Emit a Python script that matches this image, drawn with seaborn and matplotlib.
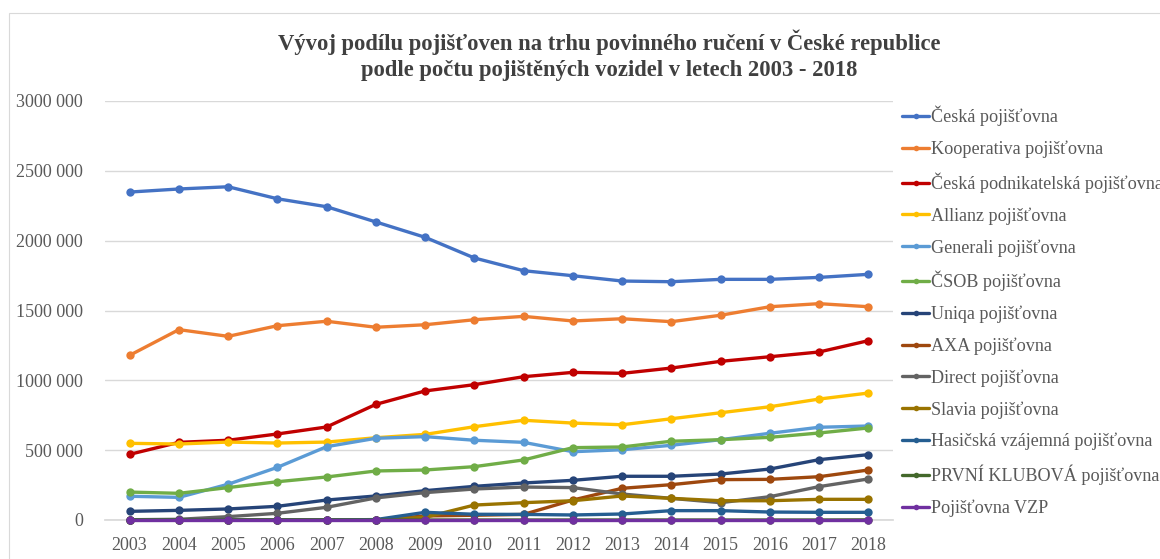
import matplotlib
matplotlib.use("Agg")
import matplotlib.pyplot as plt
from matplotlib.lines import Line2D
from matplotlib.patches import Rectangle
import pandas as pd
import seaborn as sns

# ── data ─────────────────────────────────────────────────────────────────────
years = list(range(2003, 2019))

ceska = [2348000, 2370000, 2386000, 2300000, 2243000, 2134000, 2024000, 1876000,
         1785000, 1749000, 1711000, 1706000, 1723000, 1723000, 1737000, 1759000]
kooperativa = [1179000, 1363000, 1315000, 1391000, 1423000, 1380000, 1398000, 1434000,
               1458000, 1425000, 1441000, 1420000, 1466000, 1527000, 1549000, 1527000]
cpp = [470000, 556000, 571000, 616000, 666000, 828000, 924000, 969000,
       1026000, 1057000, 1050000, 1088000, 1136000, 1169000, 1203000, 1284000]
allianz = [549000, 544000, 558000, 551000, 558000, 589000, 613000, 668000,
           714000, 694000, 682000, 725000, 768000, 811000, 866000, 909000]
generali = [170000, 162000, 256000, 377000, 525000, 585000, 597000, 571000,
            556000, 489000, 503000, 535000, 575000, 621000, 664000, 673000]
csob = [200000, 191000, 232000, 274000, 308000, 351000, 358000, 382000,
        430000, 518000, 523000, 564000, 575000, 592000, 623000, 659000]
uniqa = [62000, 69000, 79000, 98000, 143000, 172000, 210000, 241000,
         265000, 284000, 313000, 313000, 329000, 365000, 432000, 468000]
axa = [0, 0, 0, 0, 0, 0, 29000, 34000,
       40000, 143000, 227000, 253000, 289000, 291000, 310000, 358000]
direct = [2000, 5000, 24000, 48000, 91000, 158000, 196000, 222000,
          236000, 232000, 186000, 155000, 124000, 167000, 239000, 294000]
slavia = [0, 0, 0, 0, 0, 0, 19000, 107000,
          124000, 138000, 172000, 155000, 138000, 138000, 148000, 148000]
hasicska = [0, 0, 0, 0, 0, 3000, 55000, 41000,
            40000, 36000, 43000, 67000, 67000, 57000, 55000, 55000]
prvni = [0, 0, 0, 0, 0, 0, 0, 0, 0, 0, 0, 0, 0, 0, 0, 1000]
vzp = [0, 0, 0, 0, 0, 0, 0, 0, 0, 0, 0, 0, 0, 0, 0, 0]

series_names = ["Česká pojišťovna", "Kooperativa pojišťovna",
                "Česká podnikatelská pojišťovna", "Allianz pojišťovna",
                "Generali pojišťovna", "ČSOB pojišťovna", "Uniqa pojišťovna",
                "AXA pojišťovna", "Direct pojišťovna", "Slavia pojišťovna",
                "Hasičská vzájemná pojišťovna", "PRVNÍ KLUBOVÁ pojišťovna",
                "Pojišťovna VZP"]
series_values = [ceska, kooperativa, cpp, allianz, generali, csob, uniqa,
                 axa, direct, slavia, hasicska, prvni, vzp]
colors = ["#4472C4", "#ED7D31", "#C00000", "#FFC000", "#5B9BD5", "#70AD47",
          "#264478", "#9E480E", "#636363", "#997300", "#255E91", "#43682B",
          "#7030A0"]

y_ticks = [0, 500000, 1000000, 1500000, 2000000, 2500000, 3000000]
y_labels = ["0", "500 000", "1000 000", "1500 000", "2000 000", "2500 000", "3000 000"]

title = ("Vývoj podílu pojišťoven na trhu povinného ručení v České republice\n"
         "podle počtu pojištěných vozidel v letech 2003 - 2018")

df = pd.DataFrame(
    [(n, y, v) for n, vals in zip(series_names, series_values) for y, v in zip(years, vals)],
    columns=["pojistovna", "rok", "vozidla"],
)

# ── plot ─────────────────────────────────────────────────────────────────────
sns.set_theme(style="white")
plt.rcParams["font.family"] = ["Liberation Serif", "DejaVu Serif"]
TXT = "#595959"
GRID = "#D9D9D9"

fig = plt.figure(figsize=(11.6, 5.59), dpi=100, facecolor="white")
fig.patches.append(Rectangle((9 / 1160, -0.1), 1.2, 1 - 13 / 559 + 0.1, transform=fig.transFigure,
                             fill=False, edgecolor=GRID, lw=0.8))
ax = fig.add_axes([105 / 1160, 1 - 520 / 559, 788 / 1160, 419 / 559])

palette = dict(zip(series_names, colors))
sns.lineplot(data=df, x="rok", y="vozidla", hue="pojistovna", hue_order=series_names,
             palette=palette, marker="o", markersize=6, markeredgewidth=0,
             linewidth=2.4, ax=ax, legend=False)
for ln in ax.lines:
    ln.set_clip_on(False)
    ln.set_zorder(3)

ax.set_xlim(2002.5, 2018.5)
ax.set_ylim(0, 3000000)
ax.set_xticks(years)
ax.set_xticklabels([str(y) for y in years])
ax.set_xticks([y - 0.5 for y in years] + [2018.5], minor=True)
ax.set_yticks(y_ticks)
ax.set_yticklabels(y_labels)
ax.set_xlabel("")
ax.set_ylabel("")
ax.yaxis.grid(True, color=GRID, lw=1)
ax.xaxis.grid(False)
for s in ["top", "right", "left"]:
    ax.spines[s].set_visible(False)
ax.spines["bottom"].set_color(GRID)
ax.spines["bottom"].set_zorder(1)
ax.tick_params(axis="y", length=0, pad=16, labelsize=13, labelcolor=TXT)
ax.tick_params(axis="x", which="major", length=0, pad=12, labelsize=13, labelcolor=TXT)
ax.tick_params(axis="x", which="minor", length=5, color=GRID, direction="out")

# the legend runs past the right edge of the picture, as in the original
handles = [Line2D([0], [0], color=c, lw=2.4, marker="o", markersize=4, markeredgewidth=0)
           for c in colors]
fig.legend(handles, series_names, loc="upper left", bbox_to_anchor=(902 / 1160, 1 - 106 / 559),
           frameon=False, fontsize=13.1, labelcolor=TXT, handlelength=1.5,
           handletextpad=0.12, labelspacing=0.785, borderpad=0, borderaxespad=0)

fig.text(609 / 1160, 1 - 55.5 / 559, title, ha="center", va="center", fontsize=16.3,
         fontweight="bold", color="#404040", linespacing=1.3)

fig.savefig("out.png", dpi=100, facecolor="white")
